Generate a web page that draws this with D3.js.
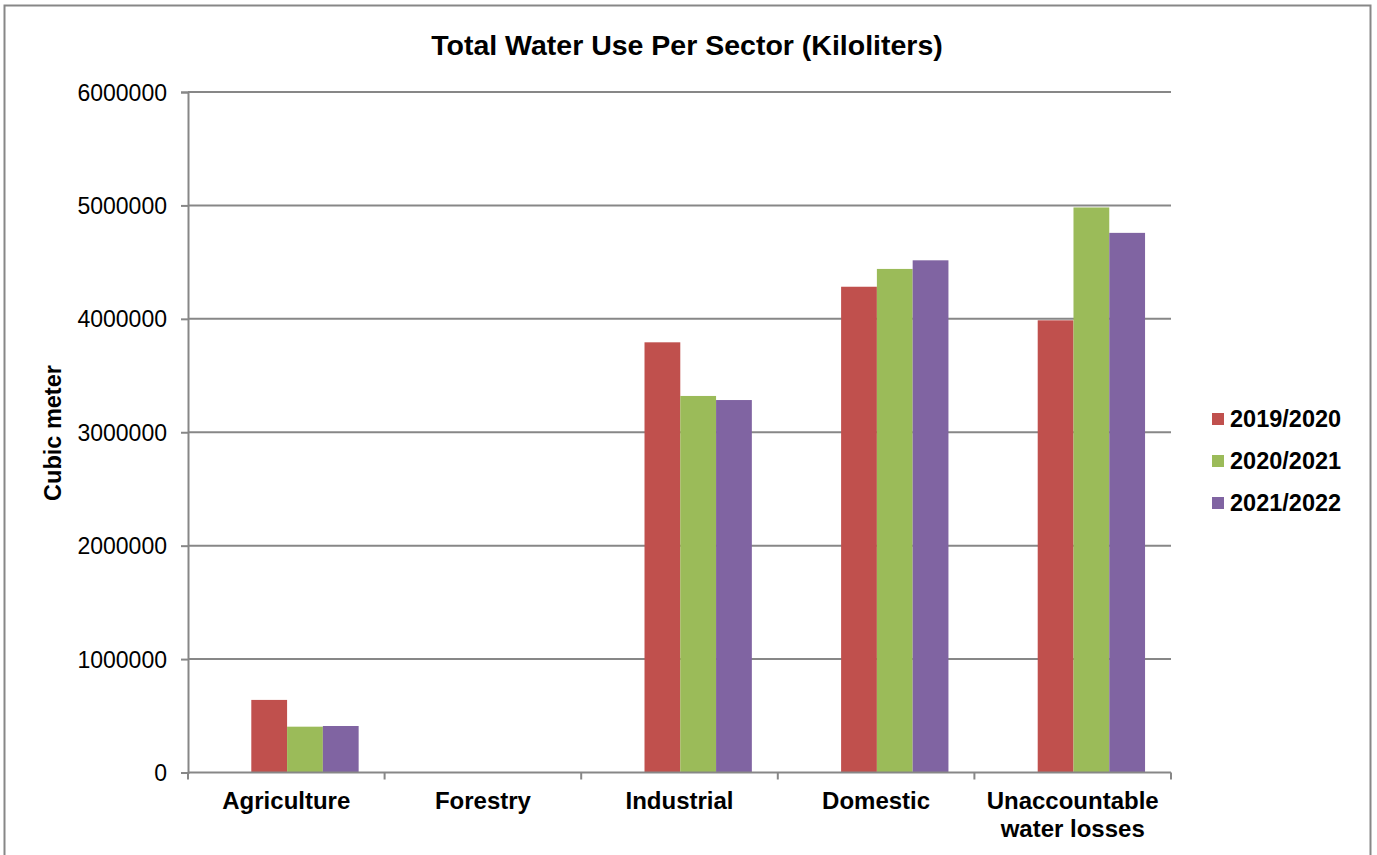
<!DOCTYPE html>
<html>
<head>
<meta charset="utf-8">
<script src="https://cdn.jsdelivr.net/npm/d3@7"></script>
<style>
  html, body { margin: 0; padding: 0; background: #fff; }
  svg { display: block; font-family: "Liberation Sans", Arial, sans-serif; }
</style>
</head>
<body>
<svg id="chart" width="1377" height="855"></svg>
<script>
// Sectors along the x axis (label lines split for wrapping)
const categories = ["Agriculture", "Forestry", "Industrial", "Domestic", "Unaccountable water losses"];
const categoryLines = [["Agriculture"], ["Forestry"], ["Industrial"], ["Domestic"], ["Unaccountable", "water losses"]];

// Financial years shown as series
const seriesNames = ["2019/2020", "2020/2021", "2021/2022"];
const seriesColors = ["#C0504D", "#9BBB59", "#8064A2"];

// Water use per sector for each year (cubic meters)
const values2019 = [640000, 0, 3793000, 4283000, 3987000];
const values2020 = [404000, 0, 3320000, 4440000, 4982000];
const values2021 = [410000, 0, 3284000, 4516000, 4758000];
const seriesValues = [values2019, values2020, values2021];

const yTicks = [0, 1000000, 2000000, 3000000, 4000000, 5000000, 6000000];

const svg = d3.select("#chart");
const gray = "#878787";

// outer chart frame
svg.append("rect")
  .attr("x", 4.5).attr("y", 5.5)
  .attr("width", 1366).attr("height", 900)
  .attr("fill", "none").attr("stroke", gray).attr("stroke-width", 2);

const plot = { left: 188, right: 1171, top: 92, bottom: 772.5 };

const y = d3.scaleLinear().domain([0, 6000000]).range([plot.bottom, plot.top]);
const x0 = d3.scaleBand().domain(categories).range([plot.left, plot.right]).padding(0);
// bars sit in the right-hand part of each category slot
const x1 = d3.scaleBand().domain(seriesNames)
  .range([x0.bandwidth() * 0.322, x0.bandwidth() * 0.868]).padding(0);

// horizontal gridlines
svg.append("g")
  .selectAll("line")
  .data(yTicks.filter(d => d > 0))
  .join("line")
  .attr("x1", plot.left).attr("x2", plot.right)
  .attr("y1", d => y(d)).attr("y2", d => y(d))
  .attr("stroke", gray).attr("stroke-width", 2);

// bars
const rows = categories.map((c, i) => ({ cat: c, vals: seriesNames.map((s, j) => ({ s, j, v: seriesValues[j][i] })) }));
svg.append("g")
  .selectAll("g")
  .data(rows)
  .join("g")
  .attr("transform", d => `translate(${x0(d.cat)},0)`)
  .selectAll("rect")
  .data(d => d.vals.filter(e => e.v > 0))
  .join("rect")
  .attr("x", d => x1(d.s))
  .attr("width", x1.bandwidth())
  .attr("y", d => y(d.v))
  .attr("height", d => y(0) - y(d.v))
  .attr("fill", d => seriesColors[d.j]);

// y axis
const yAxis = svg.append("g")
  .attr("transform", `translate(${plot.left},0)`)
  .call(d3.axisLeft(y).tickValues(yTicks).tickFormat(d3.format("d")).tickSize(7).tickPadding(14));
yAxis.select(".domain").attr("stroke", gray).attr("stroke-width", 2);
yAxis.selectAll(".tick line").attr("stroke", gray).attr("stroke-width", 2);
yAxis.selectAll(".tick text")
  .attr("fill", "#000")
  .style("font-size", "23px")
  .attr("dy", "0.35em");

// x axis baseline and category boundary ticks
const xAxis = svg.append("g");
xAxis.append("line")
  .attr("x1", plot.left).attr("x2", plot.right)
  .attr("y1", plot.bottom).attr("y2", plot.bottom)
  .attr("stroke", gray).attr("stroke-width", 2);
const boundaries = categories.map(c => x0(c)).concat([x0(categories[categories.length - 1]) + x0.bandwidth()]);
xAxis.selectAll("line.tk")
  .data(boundaries)
  .join("line")
  .attr("class", "tk")
  .attr("x1", d => d).attr("x2", d => d)
  .attr("y1", plot.bottom).attr("y2", plot.bottom + 7)
  .attr("stroke", gray).attr("stroke-width", 2);

// category labels
const catText = xAxis.selectAll("text.cat")
  .data(categories)
  .join("text")
  .attr("class", "cat")
  .attr("x", d => x0(d) + x0.bandwidth() / 2)
  .attr("y", 809)
  .attr("text-anchor", "middle")
  .style("font-size", "24px")
  .style("font-weight", "bold");
catText.each(function(d, i) {
  const t = d3.select(this);
  categoryLines[i].forEach((line, k) => {
    t.append("tspan")
      .attr("x", x0(d) + x0.bandwidth() / 2)
      .attr("dy", k === 0 ? 0 : 28)
      .text(line);
  });
});

// title
svg.append("text")
  .attr("x", 687).attr("y", 55)
  .attr("text-anchor", "middle")
  .style("font-size", "28.5px")
  .style("font-weight", "bold")
  .text("Total Water Use Per Sector (Kiloliters)");

// y axis title
svg.append("text")
  .attr("transform", "translate(61,433) rotate(-90)")
  .attr("text-anchor", "middle")
  .style("font-size", "23.5px")
  .style("font-weight", "bold")
  .text("Cubic meter");

// legend
const legend = svg.append("g")
  .selectAll("g")
  .data(seriesNames)
  .join("g")
  .attr("transform", (d, i) => `translate(1212,${419 + i * 42})`);
legend.append("rect")
  .attr("x", 0).attr("y", -6)
  .attr("width", 12).attr("height", 12)
  .attr("fill", (d, i) => seriesColors[i]);
legend.append("text")
  .attr("x", 18).attr("y", 0)
  .attr("dy", "0.35em")
  .style("font-size", "23.5px")
  .style("font-weight", "bold")
  .text(d => d);
</script>
</body>
</html>
